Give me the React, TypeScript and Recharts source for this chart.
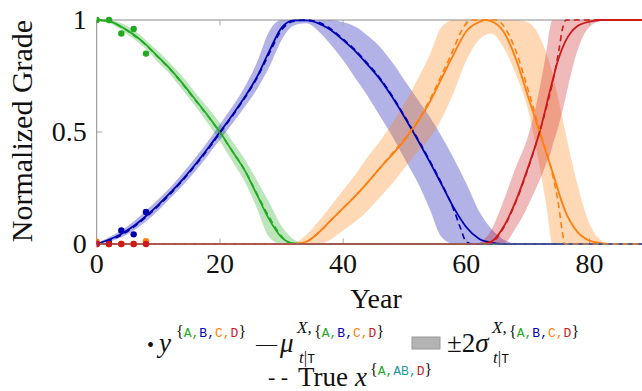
import { ComposedChart, Area, Line, Scatter, XAxis, YAxis, ReferenceLine } from "recharts";

const GREEN = "#22aa22";
const BLUE = "#0000b0";
const ORANGE = "#ff7f0e";
const RED = "#cc1a1a";
const TEAL = "#1a9c9c";
const AXIS = "#8a8a8a";

// observed grades y (years 0..8)
const OBS_YEARS = [0, 2, 4, 6, 8];
const OBS_A = [1.0, 1.0, 0.94, 0.96, 0.85];
const OBS_B = [0.0, 0.005, 0.06, 0.043, 0.143];
const OBS_C = [0.01, 0.0, 0.0, 0.0, 0.012];
const OBS_D = [0, 0, 0, 0, 0];

// smoothed mean [year, value]
const MEAN_A = [[0, 1], [2, 0.995], [4, 0.97], [6, 0.935], [8, 0.89], [10, 0.835], [12, 0.78], [14, 0.715], [16, 0.645], [18, 0.575], [20, 0.5], [22, 0.415], [24, 0.33], [26, 0.22], [28, 0.11], [30, 0.03], [32, 0.003], [34, 0], [91, 0]];
const MEAN_B = [[0, 0], [2, 0.02], [4, 0.045], [6, 0.08], [8, 0.125], [10, 0.175], [12, 0.23], [14, 0.29], [16, 0.355], [18, 0.425], [20, 0.5], [22, 0.575], [24, 0.655], [26, 0.745], [28, 0.86], [30, 0.965], [32, 0.998], [34, 0.998], [36, 0.985], [38, 0.955], [40, 0.91], [42, 0.86], [44, 0.8], [46, 0.735], [48, 0.655], [50, 0.565], [52, 0.47], [54, 0.37], [56, 0.265], [58, 0.16], [60, 0.075], [62, 0.025], [64, 0.006], [66, 0], [91, 0]];
const MEAN_C = [[0, 0], [32, 0], [34, 0.01], [36, 0.05], [38, 0.105], [40, 0.16], [42, 0.215], [44, 0.275], [46, 0.34], [48, 0.4], [50, 0.465], [52, 0.54], [54, 0.63], [56, 0.74], [58, 0.85], [60, 0.95], [62, 0.99], [63, 1], [64, 0.995], [66, 0.95], [68, 0.83], [70, 0.66], [72, 0.49], [74, 0.32], [76, 0.15], [78, 0.055], [80, 0.015], [82, 0.003], [84, 0], [91, 0]];
const MEAN_D = [[0, 0], [62, 0], [64, 0.01], [66, 0.075], [68, 0.19], [70, 0.34], [72, 0.51], [74, 0.73], [75, 0.83], [76, 0.9], [77, 0.945], [78, 0.972], [80, 0.993], [82, 1], [91, 1]];

// ±2σ band [year, low, high]
const BAND_A = [[0, 0.995, 1], [2, 0.985, 1], [4, 0.955, 0.985], [6, 0.915, 0.955], [8, 0.87, 0.91], [10, 0.81, 0.86], [12, 0.755, 0.805], [14, 0.685, 0.745], [16, 0.615, 0.675], [18, 0.54, 0.61], [20, 0.46, 0.54], [22, 0.37, 0.46], [24, 0.28, 0.38], [26, 0.16, 0.285], [28, 0.03, 0.185], [30, 0, 0.08], [32, 0, 0.02], [34, 0, 0]];
const BAND_B = [[0, 0, 0.005], [2, 0.01, 0.03], [4, 0.03, 0.06], [6, 0.06, 0.1], [8, 0.1, 0.15], [10, 0.15, 0.2], [12, 0.205, 0.255], [14, 0.262, 0.318], [16, 0.325, 0.385], [18, 0.393, 0.457], [20, 0.465, 0.535], [22, 0.537, 0.613], [24, 0.61, 0.7], [26, 0.69, 0.81], [28, 0.79, 0.95], [30, 0.91, 1], [32, 0.975, 1], [34, 0.985, 1], [36, 0.95, 1], [38, 0.89, 1], [40, 0.82, 0.99], [42, 0.74, 0.97], [44, 0.66, 0.93], [46, 0.57, 0.88], [48, 0.48, 0.81], [50, 0.38, 0.73], [52, 0.28, 0.65], [54, 0.16, 0.57], [56, 0.03, 0.48], [58, 0, 0.38], [60, 0, 0.27], [62, 0, 0.15], [64, 0, 0.07], [66, 0, 0.02], [68, 0, 0]];
const BAND_C = [[32, 0, 0], [34, 0, 0.04], [36, 0, 0.1], [38, 0.02, 0.17], [40, 0.06, 0.24], [42, 0.1, 0.31], [44, 0.15, 0.39], [46, 0.21, 0.46], [48, 0.27, 0.54], [50, 0.34, 0.63], [52, 0.41, 0.73], [54, 0.47, 0.84], [56, 0.56, 0.97], [58, 0.68, 1], [60, 0.82, 1], [62, 0.91, 1], [64, 0.94, 1], [66, 0.88, 1], [68, 0.76, 1], [70, 0.6, 0.99], [72, 0.33, 0.92], [73, 0.17, 0.85], [74, 0, 0.76], [75, 0, 0.64], [76, 0, 0.51], [78, 0, 0.27], [80, 0, 0.09], [82, 0, 0.015], [84, 0, 0]];
const BAND_D = [[62, 0, 0], [64, 0, 0.06], [66, 0, 0.19], [68, 0.07, 0.34], [70, 0.17, 0.48], [71, 0.23, 0.58], [72, 0.29, 0.71], [73, 0.36, 0.86], [73.6, 0.4, 0.97], [74, 0.44, 1], [75, 0.53, 1], [76, 0.64, 1], [77, 0.76, 1], [78, 0.86, 1], [79, 0.93, 1], [80, 0.97, 1], [82, 0.997, 1], [84, 1, 1], [91, 1, 1]];

// true latent x [year, value]
const TRUE_A = [[0, 1], [2, 0.995], [4, 0.968], [6, 0.932], [8, 0.888], [10, 0.833], [12, 0.777], [14, 0.712], [16, 0.642], [18, 0.572], [20, 0.497], [22, 0.415], [24, 0.332], [26, 0.225], [28, 0.12], [30, 0.035], [31, 0.008], [32, 0], [91, 0]];
const TRUE_B = [[0, 0], [2, 0.015], [4, 0.04], [6, 0.075], [8, 0.12], [10, 0.17], [12, 0.225], [14, 0.285], [16, 0.35], [18, 0.42], [20, 0.495], [22, 0.57], [24, 0.65], [26, 0.74], [28, 0.85], [30, 0.955], [32, 0.995], [34, 1], [36, 0.99], [38, 0.96], [40, 0.915], [42, 0.865], [44, 0.805], [46, 0.74], [48, 0.66], [50, 0.57], [52, 0.475], [54, 0.375], [56, 0.27], [58, 0.15], [59, 0.075], [60, 0.01], [61, 0], [91, 0]];
const TRUE_C = [[0, 0], [32, 0], [34, 0.01], [36, 0.05], [38, 0.105], [40, 0.16], [42, 0.215], [44, 0.275], [46, 0.34], [48, 0.405], [50, 0.47], [52, 0.545], [54, 0.64], [56, 0.755], [58, 0.875], [59, 0.94], [60, 0.985], [61, 1], [65, 1], [66, 0.975], [68, 0.865], [70, 0.69], [72, 0.5], [74, 0.31], [75, 0.17], [75.6, 0.05], [76, 0], [91, 0]];
const TRUE_D = [[0, 0], [63, 0], [64, 0.005], [66, 0.07], [68, 0.185], [70, 0.335], [72, 0.51], [73, 0.61], [74, 0.72], [75, 0.86], [75.6, 0.96], [76.2, 1], [91, 1]];

const X_TICKS = [0, 20, 40, 60, 80];
const Y_TICKS = [0, 0.5, 1];

const pts = (rows: number[][]) => rows.map(([t, v]) => ({ t, v }));
const band = (rows: number[][]) => rows.map(([t, lo, hi]) => ({ t, r: [lo, hi] }));
const obs = (vals: number[]) => OBS_YEARS.map((t, i) => ({ t, v: vals[i] }));

const SERIES = [
  { key: "A", color: GREEN, mean: MEAN_A, band: BAND_A, truth: TRUE_A, obs: OBS_A },
  { key: "B", color: BLUE, mean: MEAN_B, band: BAND_B, truth: TRUE_B, obs: OBS_B },
  { key: "C", color: ORANGE, mean: MEAN_C, band: BAND_C, truth: TRUE_C, obs: OBS_C },
  { key: "D", color: RED, mean: MEAN_D, band: BAND_D, truth: TRUE_D, obs: OBS_D },
];

// only a stylesheet rule on tspan gets the fonts through here
const FONT_CSS = `
#root svg tspan.srf { font-family: "Liberation Serif" !important; }
#root svg tspan.mno { font-family: "Liberation Mono" !important; }
#root svg tspan.it { font-style: italic !important; }
`;

const dotShape = (color: string) => (p: any) => <circle cx={p.cx} cy={p.cy} r={3.2} fill={color} />;

const tickText = (axis: "x" | "y") => (p: any) => (
  <text x={p.x} y={p.y} dy={axis === "x" ? 19 : 9} textAnchor={axis === "x" ? "middle" : "end"} fill="#111">
    <tspan className="srf" fontSize={28}>{p.payload.value}</tspan>
  </text>
);

function Braced({ x, y, items }: { x: number; y: number; items: [string, string][] }) {
  return (
    <text x={x} y={y} fill="#111">
      <tspan className="srf" fontSize={16}>{"{"}</tspan>
      {items.map(([s, c], i) => (
        <tspan key={i} className="mno" fill={c} fontSize={13}>
          {s}
          {i < items.length - 1 ? "," : ""}
        </tspan>
      ))}
      <tspan className="srf" fontSize={16}>{"}"}</tspan>
    </text>
  );
}

const ABCD: [string, string][] = [["A", GREEN], ["B", BLUE], ["C", ORANGE], ["D", RED]];
const A_AB_D: [string, string][] = [["A", GREEN], ["AB", TEAL], ["D", RED]];

function SubTT({ x, y }: { x: number; y: number }) {
  return (
    <text x={x} y={y} fill="#111">
      <tspan className="srf it" fontSize={17}>t</tspan>
      <tspan className="srf" fontSize={17}>|</tspan>
      <tspan className="mno" fontSize={13}>T</tspan>
    </text>
  );
}

function T({ x, y, size, italic, children, anchor }: any) {
  return (
    <text x={x} y={y} fill="#111" textAnchor={anchor}>
      <tspan className={italic ? "srf it" : "srf"} fontSize={size}>{children}</tspan>
    </text>
  );
}

export default function App() {
  return (
    <div style={{ position: "fixed", left: 0, top: 0, width: 642, height: 391, overflow: "hidden", background: "#fff" }}>
      <style>{FONT_CSS}</style>
      <ComposedChart width={700} height={391} margin={{ top: 20, right: 42.7, bottom: 117, left: 36.7 }}>
        <XAxis
          type="number"
          dataKey="t"
          domain={[0, 91]}
          ticks={X_TICKS}
          allowDataOverflow
          tickLine={false}
          axisLine={{ stroke: AXIS }}
          tickMargin={4}
          height={30}
          tick={tickText("x")}
        />
        <YAxis
          type="number"
          domain={[0, 1]}
          ticks={Y_TICKS}
          tickLine={false}
          axisLine={{ stroke: AXIS }}
          tickMargin={4}
          width={60}
          tick={tickText("y")}
        />
        <ReferenceLine y={1} stroke={AXIS} />
        {X_TICKS.slice(1).map((t) => (
          <ReferenceLine key={"b" + t} segment={[{ x: t, y: 0 }, { x: t, y: 0.025 }]} stroke="#aaa" />
        ))}
        {X_TICKS.slice(1).map((t) => (
          <ReferenceLine key={"t" + t} segment={[{ x: t, y: 0.975 }, { x: t, y: 1 }]} stroke="#aaa" />
        ))}
        <ReferenceLine segment={[{ x: 0, y: 0.5 }, { x: 0.9, y: 0.5 }]} stroke="#aaa" />

        {SERIES.map((s) => (
          <Area
            key={"band" + s.key}
            data={band(s.band)}
            dataKey="r"
            type="monotone"
            fill={s.color}
            fillOpacity={0.3}
            stroke="none"
            isAnimationActive={false}
            activeDot={false}
          />
        ))}
        {SERIES.map((s) => (
          <Line
            key={"mean" + s.key}
            data={pts(s.mean)}
            dataKey="v"
            type="monotone"
            stroke={s.color}
            strokeWidth={1.8}
            dot={false}
            activeDot={false}
            isAnimationActive={false}
          />
        ))}
        {SERIES.map((s) => (
          <Line
            key={"true" + s.key}
            data={pts(s.truth)}
            dataKey="v"
            type="monotone"
            stroke={s.color}
            strokeWidth={1.6}
            strokeDasharray="6 4"
            dot={false}
            activeDot={false}
            isAnimationActive={false}
          />
        ))}
        {[SERIES[2], SERIES[0], SERIES[1], SERIES[3]].map((s) => (
          <Scatter
            key={"obs" + s.key}
            data={obs(s.obs)}
            dataKey="v"
            fill={s.color}
            shape={dotShape(s.color)}
            isAnimationActive={false}
          />
        ))}
      </ComposedChart>

      <svg width={642} height={391} style={{ position: "absolute", left: 0, top: 0, pointerEvents: "none" }}>
        <text transform="translate(32,131) rotate(-90)" textAnchor="middle" fill="#111">
          <tspan className="srf" fontSize={30}>Normalized Grade</tspan>
        </text>
        <T x={376} y={308} size={28} anchor="middle">Year</T>

        {/* legend row 1 */}
        <T x={147} y={352} size={20}>•</T>
        <T x={159} y={352} size={27} italic>y</T>
        <Braced x={176} y={337} items={ABCD} />
        <T x={256} y={351} size={21}>—</T>
        <T x={280} y={352} size={27} italic>μ</T>
        <text x={297} y={333} fill="#111">
          <tspan className="srf it" fontSize={17}>X</tspan>
          <tspan className="srf" fontSize={17}>,</tspan>
        </text>
        <Braced x={314} y={337} items={ABCD} />
        <SubTT x={299} y={363} />
        <rect x={412} y={337} width={28} height={12} fill="#b3b3b3" stroke="#999" />
        <text x={447} y={352} fill="#111">
          <tspan className="srf" fontSize={27}>±2</tspan>
          <tspan className="srf it" fontSize={27}>σ</tspan>
        </text>
        <text x={492} y={333} fill="#111">
          <tspan className="srf it" fontSize={17}>X</tspan>
          <tspan className="srf" fontSize={17}>,</tspan>
        </text>
        <Braced x={509} y={337} items={ABCD} />
        <SubTT x={493} y={363} />

        {/* legend row 2 */}
        <T x={268} y={384} size={22}>- -</T>
        <T x={298} y={386} size={27}>True</T>
        <T x={355} y={386} size={27} italic>x</T>
        <Braced x={370} y={375} items={A_AB_D} />
      </svg>
    </div>
  );
}
